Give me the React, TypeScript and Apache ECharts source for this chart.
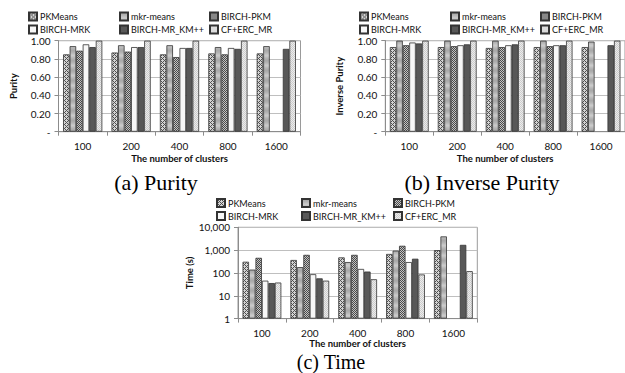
import React, { useEffect, useRef } from 'react';
import * as echarts from 'echarts';

const categories = ['100', '200', '400', '800', '1600'];
const seriesNames = ['PKMeans', 'mkr-means', 'BIRCH-PKM', 'BIRCH-MRK', 'BIRCH-MR_KM++', 'CF+ERC_MR'];

// rows follow seriesNames, columns follow categories
const purityData: (number | null)[][] = [
  [0.85, 0.87, 0.85, 0.86, 0.86],
  [0.94, 0.95, 0.95, 0.93, 0.94],
  [0.89, 0.88, 0.82, 0.85, null],
  [0.96, 0.93, 0.92, 0.92, null],
  [0.93, 0.93, 0.92, 0.91, 0.91],
  [1.0, 1.0, 1.0, 1.0, 1.0],
];
const inversePurityData: (number | null)[][] = [
  [0.93, 0.93, 0.92, 0.93, 0.93],
  [1.0, 1.0, 1.0, 1.0, 0.99],
  [0.95, 0.94, 0.93, 0.94, null],
  [0.98, 0.95, 0.95, 0.95, null],
  [0.97, 0.96, 0.96, 0.95, 0.95],
  [1.0, 1.0, 1.0, 1.0, 1.0],
];
const timeData: (number | null)[][] = [
  [310, 370, 480, 680, 1000],
  [140, 180, 300, 950, 4000],
  [460, 620, 620, 1550, null],
  [46, 88, 150, 300, null],
  [36, 58, 115, 420, 1700],
  [38, 46, 53, 86, 120],
];

const yTitles = ['Purity', 'Inverse Purity', 'Time (s)'];
const xTitle = 'The number of clusters';
const captions = ['(a) Purity', '(b) Inverse Purity', '(c) Time'];

const FONT = 'Lato';

function makePattern(w: number, h: number, draw: (ctx: CanvasRenderingContext2D) => void) {
  const c = document.createElement('canvas');
  c.width = w;
  c.height = h;
  const ctx = c.getContext('2d') as CanvasRenderingContext2D;
  draw(ctx);
  return { image: c.toDataURL(), repeat: 'repeat', imageWidth: w, imageHeight: h } as any;
}

function buildFills() {
  const pk = makePattern(4, 4, (ctx) => {
    ctx.fillStyle = '#d4d4d4';
    ctx.fillRect(0, 0, 4, 4);
    ctx.fillStyle = '#505050';
    for (let x = 0; x < 4; x++)
      for (let y = 0; y < 4; y++)
        if ((x + y) % 4 === 0 || (((x - y) % 4) + 4) % 4 === 0) ctx.fillRect(x, y, 1, 1);
  });
  const mkr = makePattern(4, 10, (ctx) => {
    const rows = ['#a9a9a9', '#adadad', '#b3b3b3', '#bbbbbb', '#c4c4c4', '#cacaca', '#c4c4c4', '#bbbbbb', '#b3b3b3', '#adadad'];
    rows.forEach((c, i) => {
      ctx.fillStyle = c;
      ctx.fillRect(0, i, 4, 1);
    });
  });
  const bpkm = makePattern(2, 2, (ctx) => {
    ctx.fillStyle = '#c4c4c4';
    ctx.fillRect(0, 0, 2, 2);
    ctx.fillStyle = '#4a4a4a';
    ctx.fillRect(0, 0, 1, 1);
    ctx.fillRect(1, 1, 1, 1);
  });
  const cf = makePattern(2, 2, (ctx) => {
    ctx.fillStyle = '#ececec';
    ctx.fillRect(0, 0, 2, 2);
    ctx.fillStyle = '#cccccc';
    ctx.fillRect(0, 0, 1, 1);
    ctx.fillRect(1, 1, 1, 1);
  });
  return [pk, mkr, bpkm, '#f7f7f7', '#585858', cf];
}

const App: React.FC = () => {
  const ref = useRef<HTMLDivElement>(null);

  useEffect(() => {
    if (!ref.current) return;
    const chart = echarts.init(ref.current, undefined, { renderer: 'svg' });
    const fills = buildFills();

    const grids = [
      { left: 58.5, top: 40.7, width: 242, height: 91 },
      { left: 385.3, top: 40.7, width: 242, height: 91 },
      { left: 238, top: 227.3, width: 239.3, height: 91.3 },
    ];
    const xNameGaps = [22, 22, 20];

    const axisColor = '#8c8c8c';
    const labelStyle = { fontFamily: FONT, fontSize: 10, color: '#111' };
    const nameStyle = { fontFamily: FONT, fontSize: 9.5, fontWeight: 'bold' as const, color: '#111', lineHeight: 10 };

    const xAxes = grids.map((_, i) => ({
      gridIndex: i,
      type: 'category' as const,
      data: categories,
      axisLine: { lineStyle: { color: axisColor } },
      axisTick: { show: true, length: 4, lineStyle: { color: axisColor } },
      axisLabel: { ...labelStyle, margin: 9 },
      name: xTitle,
      nameLocation: 'middle' as const,
      nameGap: xNameGaps[i],
      nameTextStyle: nameStyle,
    }));

    const commonY = (i: number, gap: number) => ({
      gridIndex: i,
      axisLine: { show: true, lineStyle: { color: axisColor } },
      axisTick: { show: true, length: 4, lineStyle: { color: axisColor } },
      splitLine: { show: true, lineStyle: { color: '#bfbfbf' } },
      name: yTitles[i],
      nameLocation: 'middle' as const,
      nameGap: gap,
      nameTextStyle: nameStyle,
    });

    const yAxes = [
      {
        ...commonY(0, 40),
        type: 'value' as const,
        min: 0,
        max: 1,
        interval: 0.2,
        axisLabel: { ...labelStyle, margin: 8, formatter: (v: number) => (v === 0 ? '-' : v.toFixed(2)) },
      },
      {
        ...commonY(1, 41),
        type: 'value' as const,
        min: 0,
        max: 1,
        interval: 0.2,
        axisLabel: { ...labelStyle, margin: 8, formatter: (v: number) => (v === 0 ? '-' : v.toFixed(2)) },
      },
      {
        ...commonY(2, 43),
        type: 'log' as const,
        logBase: 10,
        min: 1,
        max: 10000,
        axisLabel: { ...labelStyle, margin: 8, formatter: (v: number) => Math.round(v).toLocaleString('en-US') },
      },
    ];

    const datasets = [purityData, inversePurityData, timeData];
    const series: any[] = [];
    datasets.forEach((ds, gi) => {
      ds.forEach((vals, si) => {
        series.push({
          type: 'bar',
          name: seriesNames[si],
          xAxisIndex: gi,
          yAxisIndex: gi,
          data: vals,
          barGap: '0%',
          barCategoryGap: '19%',
          itemStyle: { color: fills[si], borderColor: '#333', borderWidth: 0.8 },
          emphasis: { disabled: true },
        });
      });
    });

    const legendCols = [
      [seriesNames[0], seriesNames[3]],
      [seriesNames[1], seriesNames[4]],
      [seriesNames[2], seriesNames[5]],
    ];
    const legendPos = [
      { lefts: [28, 119, 209], top: 11.5 },
      { lefts: [359, 450, 540], top: 11.5 },
      { lefts: [216, 301, 393], top: 198 },
    ];
    const legends: any[] = [];
    legendPos.forEach((p) => {
      p.lefts.forEach((l, ci) => {
        legends.push({
          data: legendCols[ci],
          orient: 'vertical',
          left: l,
          top: p.top,
          padding: 0,
          itemWidth: 8,
          itemHeight: 8,
          itemGap: 3,
          icon: 'rect',
          selectedMode: false,
          textStyle: { fontFamily: FONT, fontSize: 9, color: '#111', padding: [0, 0, 0, -2] },
        });
      });
    });

    const capPos = [
      [156, 182],
      [482, 182],
      [331, 362],
    ];
    const graphic = captions.map((t, i) => ({
      type: 'text',
      x: capPos[i][0],
      y: capPos[i][1],
      style: {
        text: t,
        font: i === 2 ? '20px "Liberation Serif"' : '22px "Liberation Serif"',
        fill: '#000',
        align: 'center',
        verticalAlign: 'middle',
      },
    }));

    chart.setOption({
      animation: false,
      backgroundColor: '#fff',
      grid: grids.map((g) => ({ ...g, show: true, borderColor: '#9a9a9a', borderWidth: 1 })),
      xAxis: xAxes,
      yAxis: yAxes,
      legend: legends,
      series,
      graphic,
    });

    return () => chart.dispose();
  }, []);

  return (
    <div
      ref={ref}
      style={{ position: 'absolute', left: 0, top: 0, width: 625, height: 373, background: '#fff' }}
    />
  );
};

export default App;
